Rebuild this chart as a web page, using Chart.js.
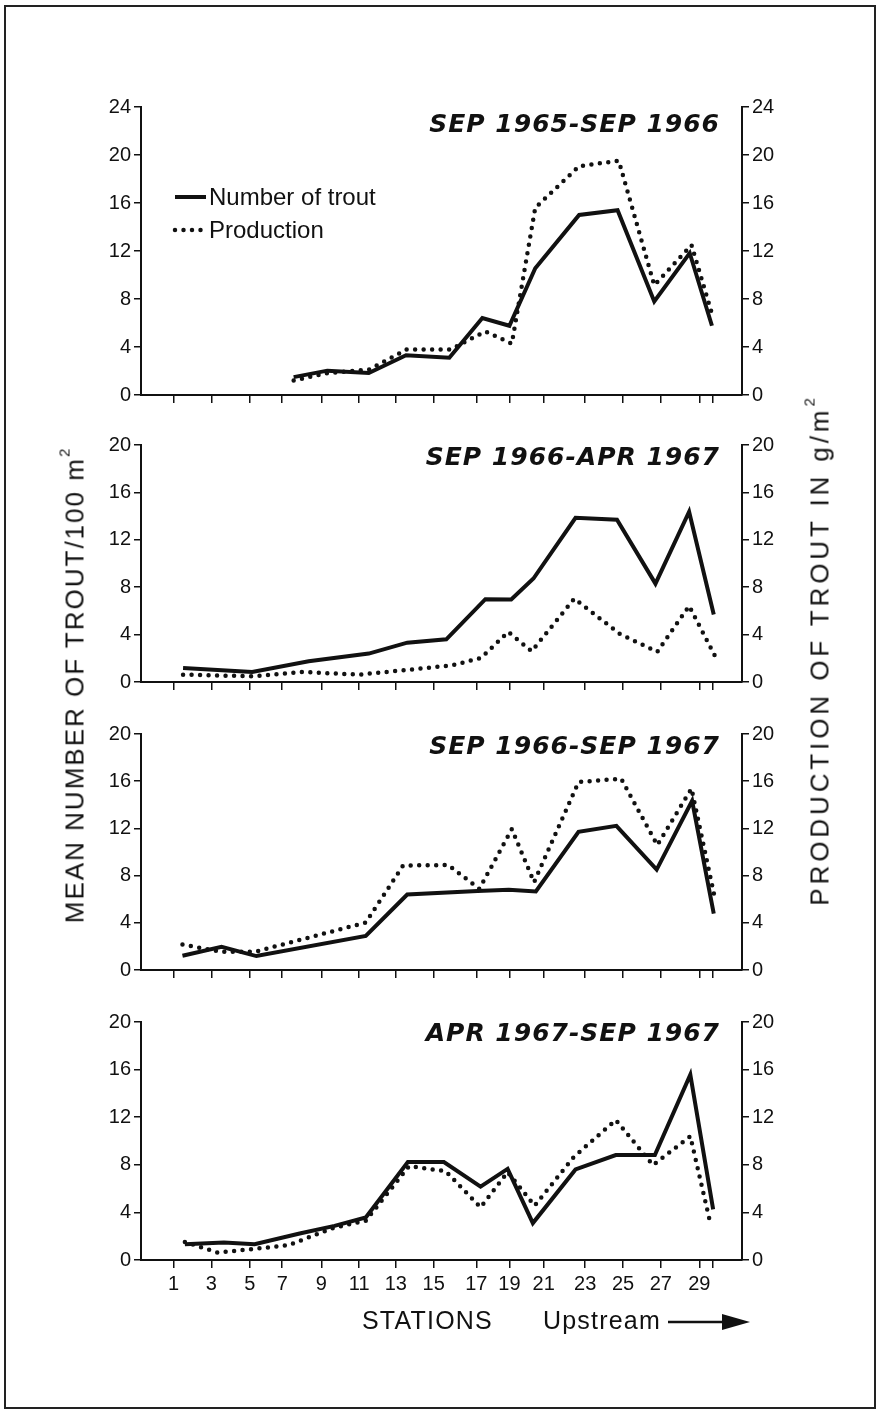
<!DOCTYPE html>
<html>
<head>
<meta charset="utf-8">
<script src="https://cdn.jsdelivr.net/npm/chart.js@4.4.1/dist/chart.umd.min.js"></script>
<style>
html,body{margin:0;padding:0;background:#fff;}
body{width:882px;height:1415px;position:relative;overflow:hidden;font-family:"Liberation Sans",Arial,sans-serif;color:#111;}
.frame{position:absolute;left:4px;top:5px;width:872px;height:1404px;border:2px solid #222;box-sizing:border-box;}
canvas.panel{position:absolute;left:0;}
.rot{position:absolute;white-space:nowrap;font-size:26px;letter-spacing:2px;transform:translate(-50%,-50%) rotate(-90deg);}
.xt{position:absolute;white-space:nowrap;font-size:25px;letter-spacing:1.2px;}
sup{font-size:15px;position:relative;top:-4px;vertical-align:top;}
</style>
</head>
<body>
<div class="frame"></div>
<canvas id="p1" class="panel" width="882" height="323" style="top:87px"></canvas>
<canvas id="p2" class="panel" width="882" height="272" style="top:425px"></canvas>
<canvas id="p3" class="panel" width="882" height="271" style="top:714px"></canvas>
<canvas id="p4" class="panel" width="882" height="308" style="top:1002px"></canvas>
<div class="rot" style="left:75px;top:685px">MEAN NUMBER OF TROUT/100 m<sup>2</sup></div>
<div class="rot" style="left:820px;top:650px;letter-spacing:3.9px">PRODUCTION OF TROUT IN g/m<sup>2</sup></div>
<div class="xt" style="left:362px;top:1306px">STATIONS</div>
<div class="xt" style="left:543px;top:1306px">Upstream</div>
<svg style="position:absolute;left:664px;top:1310px" width="90" height="24">
  <line x1="4" y1="12" x2="62" y2="12" stroke="#111" stroke-width="2.5"/>
  <polygon points="58,4 86,12 58,20" fill="#111"/>
</svg>
<script>
// Station positions along the stream (distance units, axis spans 0-100)
const stationPos = [5.4, 11.7, 18.1, 23.5, 30.0, 36.3, 42.4, 48.7, 55.8, 61.3, 67.0, 73.9, 80.2, 86.5, 92.9, 95.2];
const stationLabels = ['1','3','5','7','9','11','13','15','17','19','21','23','25','27','29',''];

const panelTitles = ['SEP 1965-SEP 1966', 'SEP 1966-APR 1967', 'SEP 1966-SEP 1967', 'APR 1967-SEP 1967'];
const yMaxes = [24, 20, 20, 20];

// Panel 1: SEP 1965 - SEP 1966
const p1NumX = [25.4, 31.0, 37.9, 44.1, 51.3, 56.8, 61.3, 65.6, 72.9, 79.3, 85.4, 91.3, 95.0];
const p1NumY = [1.49, 2.03, 1.83, 3.32, 3.10, 6.42, 5.77, 10.56, 15.0, 15.4, 7.8, 11.83, 5.77];
const p1ProdX = [25.4, 31.0, 37.9, 44.2, 51.5, 57.3, 61.7, 65.6, 72.9, 79.5, 85.4, 91.6, 95.1];
const p1ProdY = [1.21, 1.83, 2.11, 3.80, 3.80, 5.30, 4.28, 15.6, 19.07, 19.52, 9.15, 12.5, 6.6];

// Panel 2: SEP 1966 - APR 1967
const p2NumX = [7.0, 18.5, 27.9, 37.9, 44.3, 50.8, 57.3, 61.6, 65.3, 72.3, 79.2, 85.6, 91.2, 95.3];
const p2NumY = [1.18, 0.85, 1.75, 2.4, 3.32, 3.6, 6.99, 6.96, 8.73, 13.86, 13.7, 8.3, 14.37, 5.69];
const p2ProdX = [7.0, 18.8, 26.6, 36.3, 44.7, 51.8, 56.6, 61.1, 65.0, 72.1, 79.6, 85.9, 91.2, 95.5];
const p2ProdY = [0.62, 0.48, 0.85, 0.62, 1.04, 1.41, 2.03, 4.23, 2.59, 7.04, 4.08, 2.54, 6.42, 2.2];

// Panel 3: SEP 1966 - SEP 1967
const p3NumX = [6.9, 13.4, 19.2, 37.4, 44.3, 56.0, 61.2, 65.7, 72.8, 79.1, 85.8, 91.7, 95.3];
const p3NumY = [1.21, 1.97, 1.18, 2.89, 6.40, 6.69, 6.80, 6.66, 11.71, 12.22, 8.51, 14.33, 4.78];
const p3ProdX = [6.9, 13.4, 18.9, 37.4, 43.6, 51.1, 56.3, 61.7, 65.4, 72.8, 79.9, 85.9, 91.6, 95.6];
const p3ProdY = [2.16, 1.54, 1.54, 4.02, 8.85, 8.90, 6.88, 11.94, 7.44, 15.93, 16.21, 10.59, 15.37, 5.81];

// Panel 4: APR 1967 - SEP 1967
const p4NumX = [7.3, 13.8, 18.9, 26.4, 32.2, 37.4, 44.4, 50.4, 56.5, 61.0, 65.2, 72.3, 79.0, 85.5, 91.4, 95.2];
const p4NumY = [1.32, 1.46, 1.32, 2.23, 2.87, 3.58, 8.23, 8.23, 6.17, 7.66, 3.10, 7.61, 8.82, 8.82, 15.58, 4.25];
const p4ProdX = [7.3, 12.8, 16.7, 24.5, 32.2, 37.4, 44.6, 50.7, 56.5, 61.0, 65.5, 72.0, 79.0, 85.2, 91.4, 94.6];
const p4ProdY = [1.52, 0.62, 0.82, 1.24, 2.73, 3.30, 7.89, 7.46, 4.42, 7.38, 4.56, 8.65, 11.77, 7.97, 10.4, 3.38];

const panels = [
  {id:'p1', numX:p1NumX, numY:p1NumY, prodX:p1ProdX, prodY:p1ProdY, titleOff:25, legend:true},
  {id:'p2', numX:p2NumX, numY:p2NumY, prodX:p2ProdX, prodY:p2ProdY, titleOff:20},
  {id:'p3', numX:p3NumX, numY:p3NumY, prodX:p3ProdX, prodY:p3ProdY, titleOff:20},
  {id:'p4', numX:p4NumX, numY:p4NumY, prodX:p4ProdX, prodY:p4ProdY, titleOff:19, bottom:true}
];

const INK = '#111';
const TICK_FONT = {family:'"Liberation Sans", Arial, sans-serif', size:20};

const panelDecor = {
  id:'panelDecor',
  afterDraw(chart, args, opts){
    const ctx = chart.ctx, a = chart.chartArea;
    ctx.save();
    ctx.fillStyle = INK;
    ctx.font = 'italic bold 25px "DejaVu Sans", sans-serif';
    ctx.textAlign = 'right';
    ctx.textBaseline = 'alphabetic';
    if ('letterSpacing' in ctx) ctx.letterSpacing = '1px';
    ctx.fillText(opts.title, a.right - 22, a.top + opts.titleOff);
    if ('letterSpacing' in ctx) ctx.letterSpacing = '0px';
    if (opts.legend) {
      const ds = chart.data.datasets;
      const x0 = a.left + 34, x1 = a.left + 65;
      const rows = [a.top + 90, a.top + 123];
      ds.forEach((d, i) => {
        ctx.beginPath();
        ctx.strokeStyle = d.borderColor;
        ctx.lineWidth = d.borderWidth;
        ctx.lineCap = d.borderCapStyle || 'butt';
        ctx.setLineDash(d.borderDash || []);
        ctx.moveTo(x0, rows[i]);
        ctx.lineTo(x1, rows[i]);
        ctx.stroke();
        ctx.setLineDash([]);
        ctx.font = '24px "Liberation Sans", Arial, sans-serif';
        ctx.textAlign = 'left';
        ctx.textBaseline = 'middle';
        ctx.fillText(d.label, x1 + 3, rows[i] + 1);
      });
    }
    ctx.restore();
  }
};

function yScale(pos, max){
  return {
    type:'linear', position:pos, min:0, max:max,
    afterFit(s){ s.width = pos === 'left' ? 141 : 140; },
    ticks:{stepSize:4, color:INK, font:TICK_FONT, padding:3},
    grid:{drawOnChartArea:false, drawTicks:true, tickLength:7, color:INK, lineWidth:1.5},
    border:{display:true, color:INK, width:2}
  };
}

panels.forEach((p, k) => {
  new Chart(document.getElementById(p.id), {
    type:'line',
    data:{
      datasets:[
        {label:'Number of trout', data:p.numX.map((x,i)=>({x:x, y:p.numY[i]})), yAxisID:'y',
         borderColor:INK, borderWidth:4, pointRadius:0, tension:0, borderJoinStyle:'miter', fill:false},
        {label:'Production', data:p.prodX.map((x,i)=>({x:x, y:p.prodY[i]})), yAxisID:'y2',
         borderColor:INK, borderWidth:4.5, borderDash:[0, 8.5], borderCapStyle:'round', pointRadius:0, tension:0, fill:false}
      ]
    },
    options:{
      responsive:false, animation:false, devicePixelRatio:1,
      layout:{padding:{top:20, bottom:0, left:0, right:0}},
      plugins:{legend:{display:false}, tooltip:{enabled:false},
        panelDecor:{title:panelTitles[k], titleOff:p.titleOff, legend:!!p.legend}},
      scales:{
        x:{type:'linear', position:'bottom', min:0, max:100,
           afterBuildTicks(s){ s.ticks = stationPos.map(v => ({value:v})); },
           afterFit(s){ s.height = p.bottom ? 50 : 10; },
           ticks:{autoSkip:false, maxRotation:0, color:INK, font:TICK_FONT, padding:4,
                  callback:(v, i) => p.bottom ? stationLabels[i] : ''},
           grid:{drawOnChartArea:false, drawTicks:true, tickLength:8, color:INK, lineWidth:1.5},
           border:{display:true, color:INK, width:2}},
        y:yScale('left', yMaxes[k]),
        y2:yScale('right', yMaxes[k])
      }
    },
    plugins:[panelDecor]
  });
});
</script>
</body>
</html>
